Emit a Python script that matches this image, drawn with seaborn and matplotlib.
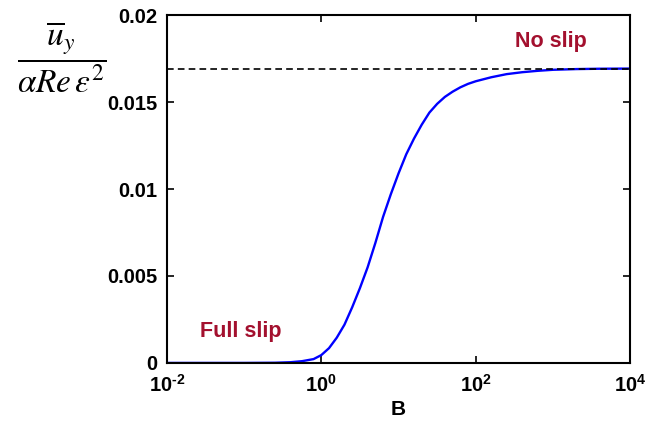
import numpy as np
import pandas as pd
import matplotlib
matplotlib.use("Agg")
import matplotlib.pyplot as plt
import seaborn as sns
from matplotlib.ticker import FixedLocator, FixedFormatter, NullLocator

# ---- data ----
log_B = [-2.0, -1.0, -0.6, -0.4, -0.25, -0.1, 0.0, 0.1, 0.2, 0.3, 0.4, 0.5, 0.6,
         0.7, 0.8, 0.9, 1.0, 1.1, 1.2, 1.3, 1.4, 1.5, 1.6, 1.7, 1.8, 1.9, 2.0,
         2.2, 2.4, 2.6, 2.8, 3.0, 3.3, 3.6, 4.0]
uy = [0.0, 0.0, 0.00001, 0.00004, 0.0001, 0.00022, 0.00045, 0.00085, 0.00145,
      0.0022, 0.0032, 0.0043, 0.0055, 0.0069, 0.0084, 0.0097, 0.0109, 0.0120,
      0.0129, 0.0137, 0.0144, 0.0149, 0.0153, 0.0156, 0.01585, 0.01605, 0.0162,
      0.01643, 0.01661, 0.01672, 0.0168, 0.01686, 0.0169, 0.01692, 0.01693]
no_slip_value = 0.01693
x_ticks = [1e-2, 1e0, 1e2, 1e4]
x_tick_labels = [r"$\mathbf{10^{\text{-}2}}$", r"$\mathbf{10^{0}}$",
                 r"$\mathbf{10^{2}}$", r"$\mathbf{10^{4}}$"]
y_ticks = [0, 0.005, 0.01, 0.015, 0.02]
y_tick_labels = ["0", "0.005", "0.01", "0.015", "0.02"]
annotations = ["No slip", "Full slip"]

B = [10 ** v for v in log_B]
df = pd.DataFrame({"B": B, "uy": uy})

sns.set_style("ticks")
plt.rcParams["font.family"] = ["Liberation Sans", "DejaVu Sans"]
plt.rcParams["mathtext.fontset"] = "custom"
plt.rcParams["mathtext.bf"] = "Liberation Sans:bold"
plt.rcParams["mathtext.rm"] = "Liberation Sans:bold"
for key in ["text.color", "axes.labelcolor", "xtick.color", "ytick.color",
            "xtick.labelcolor", "ytick.labelcolor"]:
    plt.rcParams[key] = "black"

fig = plt.figure(figsize=(6.62, 4.22), dpi=100)
ax = fig.add_axes([0.252, 0.14, 0.700, 0.824])

sns.lineplot(data=df, x="B", y="uy", ax=ax, color="#0000FF", linewidth=1.7)
ax.axhline(no_slip_value, color="black", linestyle=(0, (4, 2.5)), linewidth=1.2)

ax.set_xscale("log")
ax.set_xlim(1e-2, 1e4)
ax.set_ylim(0, 0.02)

ax.xaxis.set_major_locator(FixedLocator(x_ticks))
ax.xaxis.set_major_formatter(FixedFormatter(x_tick_labels))
ax.xaxis.set_minor_locator(NullLocator())
ax.yaxis.set_major_locator(FixedLocator(y_ticks))
ax.yaxis.set_major_formatter(FixedFormatter(y_tick_labels))

ax.tick_params(direction="in", top=True, right=True, length=5, width=1.2,
               labelsize=14.5, color="black", labelcolor="black")
ax.tick_params(axis="y", pad=7)
ax.tick_params(axis="x", pad=8)
for lab in ax.get_yticklabels():
    lab.set_fontweight("bold")
for sp in ax.spines.values():
    sp.set_linewidth(1.5)
    sp.set_color("black")

ax.set_xlabel("B", fontsize=15, fontweight="bold", labelpad=3, color="black")
ax.set_ylabel("")

red = "#A3102E"
fig.text(551 / 662, 1 - 42 / 422, annotations[0],
         ha="center", va="center", fontsize=15.5, fontweight="bold", color=red)
fig.text(241 / 662, 1 - 332 / 422, annotations[1],
         ha="center", va="center", fontsize=15.5, fontweight="bold", color=red)

fig.text(62 / 662, 1 - 57 / 422,
         r"$\dfrac{\overline{u}_{y}}{\alpha Re\,\varepsilon^{2}}$",
         ha="center", va="center", fontsize=24, math_fontfamily="stix",
         color="black")

fig.savefig("out.png", dpi=100)
